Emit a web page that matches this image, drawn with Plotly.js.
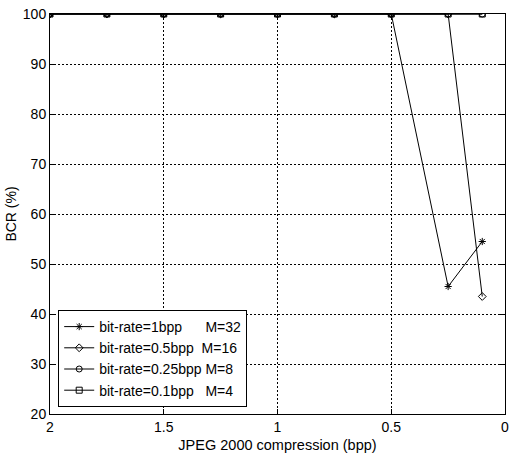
<!DOCTYPE html>
<html><head><meta charset="utf-8">
<script src="https://cdn.plot.ly/plotly-3.0.1.min.js"></script>
<style>html,body{margin:0;padding:0;background:#fff}#c{width:513px;height:462px}</style>
</head><body><div id="c"></div>
<script>
const xBpp = [2, 1.75, 1.5, 1.25, 1, 0.75, 0.5, 0.25, 0.1];
const names = ["bit-rate=1bpp\u00a0\u00a0\u00a0\u00a0\u00a0\u00a0M=32", "bit-rate=0.5bpp\u00a0\u00a0M=16", "bit-rate=0.25bpp M=8", "bit-rate=0.1bpp\u00a0\u00a0\u00a0M=4"];
const bcr1 = [100, 100, 100, 100, 100, 100, 100, 45.5, 54.5];
const bcr05 = [100, 100, 100, 100, 100, 100, 100, 100, 43.5];
const bcr025 = [100, 100, 100, 100, 100, 100, 100, 100, 100];
const bcr01 = [100, 100, 100, 100, 100, 100, 100, 100, 100];
const symbols = ["asterisk-open", "diamond-open", "circle-open", "square-open"];
const series = [bcr1, bcr05, bcr025, bcr01];
const traces = series.map((y, i) => ({
  x: xBpp, y: y, name: names[i], type: "scatter", mode: "lines+markers",
  line: {color: "#000", width: 1},
  marker: {symbol: symbols[i], size: 6, color: "#000", line: {color: "#000", width: 1}}
}));
const font = {family: "Liberation Sans, Arial, sans-serif", size: 14, color: "#000"};
const layout = {
  width: 513, height: 462, font: font,
  margin: {l: 50, r: 8, t: 14, b: 48},
  paper_bgcolor: "#fff", plot_bgcolor: "#fff", showlegend: true,
  xaxis: {range: [2, 0], tickvals: [2, 1.5, 1, 0.5, 0], ticktext: ["2", "1.5", "1", "0.5", "0"],
    showline: true, mirror: "ticks", linecolor: "#000", linewidth: 1, ticks: "inside", ticklen: 5, tickcolor: "#000",
    showgrid: true, gridcolor: "#000", griddash: "2px,2px", gridwidth: 1, zeroline: false,
    title: {text: "JPEG 2000 compression (bpp)", font: {family: font.family, size: 14.5, color: "#000"}, standoff: 6}},
  yaxis: {range: [20, 100], tickvals: [20, 30, 40, 50, 60, 70, 80, 90, 100],
    showline: true, mirror: "ticks", linecolor: "#000", linewidth: 1, ticks: "inside", ticklen: 5, tickcolor: "#000",
    showgrid: true, gridcolor: "#000", griddash: "2px,2px", gridwidth: 1, zeroline: false,
    title: {text: "BCR (%)", font: font, standoff: 2}},
  legend: {x: 0.018, y: 0.0175, xanchor: "left", yanchor: "bottom", bordercolor: "#000", borderwidth: 1,
    bgcolor: "#fff", font: font, tracegroupgap: 0, itemwidth: 30}
};
Plotly.newPlot("c", traces, layout, {staticPlot: true});
</script></body></html>
